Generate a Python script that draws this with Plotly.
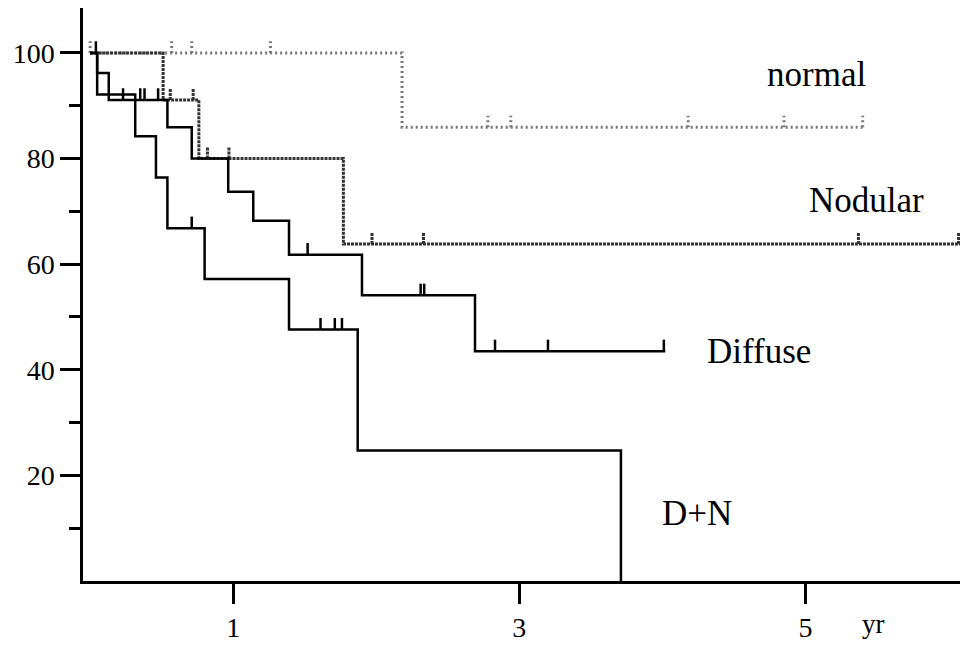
import plotly.graph_objects as go

# Kaplan-Meier survival by lesion type (percent surviving vs years)

# step curves: time of each drop (yr) and survival after the drop (%)
normal_t = [0.0, 2.18, 5.42]
normal_s = [100.0, 85.9, 85.9]
normal_cens = [0.0, 0.57, 0.71, 1.26, 2.78, 2.94, 4.18, 4.85, 5.40]

nodular_t = [0.0, 0.51, 0.76, 1.77, 6.08]
nodular_s = [100.0, 91.1, 80.0, 63.8, 63.8]
nodular_cens = [0.56, 0.72, 0.82, 0.97, 1.97, 2.33, 5.37, 6.07]

diffuse_t = [0.0, 0.049, 0.13, 0.54, 0.71, 0.965, 1.14, 1.39, 1.90, 2.69, 4.02]
diffuse_s = [100.0, 96.2, 91.1, 85.9, 80.0, 73.7, 68.2, 61.8, 54.1, 43.5, 43.5]
diffuse_cens = [0.23, 0.35, 0.38, 0.475, 1.52, 2.31, 2.335, 2.83, 3.20, 4.01]

dn_t = [0.0, 0.049, 0.315, 0.46, 0.54, 0.80, 1.39, 1.87, 3.71]
dn_s = [100.0, 92.1, 84.2, 76.4, 66.8, 57.2, 47.6, 24.7, 0.0]
dn_cens = [0.04, 0.71, 1.61, 1.71, 1.76]

y_major = [20, 40, 60, 80, 100]
y_minor = [10, 30, 50, 70, 90]
x_ticks = [1, 3, 5]

FONT = "Liberation Serif, Times New Roman, serif"
CENS_H = 2.2  # height of censoring marks, in % units


def surv_at(t, times, vals):
    s = vals[0]
    for ti, vi in zip(times, vals):
        if ti <= t:
            s = vi
        else:
            break
    return s


def cens_segments(cens, times, vals):
    xs, ys = [], []
    for c in cens:
        s = surv_at(c, times, vals)
        xs += [c, c, None]
        ys += [s, s + CENS_H, None]
    return xs, ys


groups = [
    (normal_t, normal_s, normal_cens, dict(color="#777777", width=3, dash="2px,3px")),
    (nodular_t, nodular_s, nodular_cens, dict(color="#333333", width=3, dash="3px,1px")),
    (diffuse_t, diffuse_s, diffuse_cens, dict(color="black", width=2.5)),
    (dn_t, dn_s, dn_cens, dict(color="black", width=2.5)),
]

fig = go.Figure()
for t, s, cens, line in groups:
    fig.add_trace(go.Scatter(x=t, y=s, mode="lines", line=dict(shape="hv", **line),
                             cliponaxis=False, hoverinfo="skip"))
    cx, cy = cens_segments(cens, t, s)
    fig.add_trace(go.Scatter(x=cx, y=cy, mode="lines", line=line,
                             cliponaxis=False, hoverinfo="skip"))

labels = [
    ("normal", 4.72, 96.0),
    ("Nodular", 5.01, 72.0),
    ("Diffuse", 4.30, 43.4),
    ("D+N", 3.98, 12.7),
]
for txt, x, y in labels:
    fig.add_annotation(x=x, y=y, text=txt, showarrow=False, xanchor="left", yanchor="middle",
                       font=dict(family=FONT, size=35, color="black"))

fig.add_annotation(x=5.38, xref="x", y=-0.075, yref="paper", text="yr", showarrow=False,
                   xanchor="left", yanchor="middle",
                   font=dict(family=FONT, size=27, color="black"))

fig.update_layout(
    width=963, height=646,
    margin=dict(l=83, r=3, t=8, b=62),
    paper_bgcolor="white", plot_bgcolor="white",
    showlegend=False,
    font=dict(family=FONT, size=28, color="black"),
    xaxis=dict(range=[-0.05, 6.08], tickvals=x_ticks, ticks="outside", ticklen=20,
               tickwidth=2.5, tickcolor="black", showline=True, linecolor="black",
               linewidth=2.5, showgrid=False, zeroline=False,
               tickfont=dict(family=FONT, size=28)),
    yaxis=dict(range=[0, 108.5], tickvals=y_major, ticks="outside", ticklen=20,
               tickwidth=2.5, tickcolor="black", showline=True, linecolor="black",
               linewidth=2.5, showgrid=False, zeroline=False,
               tickfont=dict(family=FONT, size=28),
               minor=dict(tickvals=y_minor, ticks="outside", ticklen=11,
                          tickwidth=2.5, tickcolor="black", showgrid=False)),
)

fig.write_html("out.html")
